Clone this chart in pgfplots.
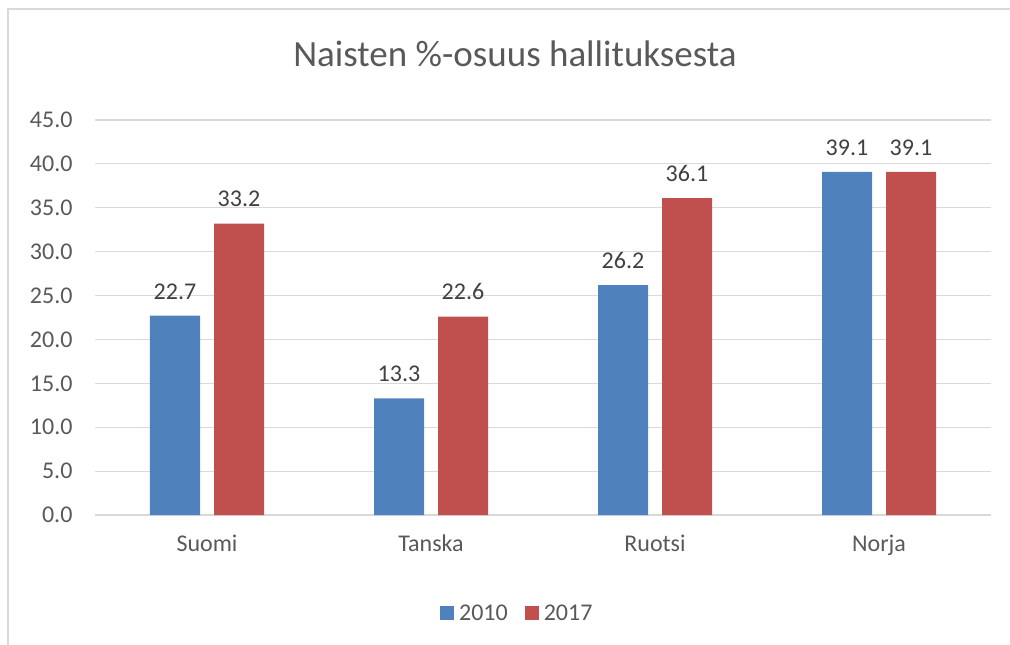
\documentclass[border=0pt]{standalone}
\usepackage{pgfplots}
\pgfplotsset{compat=1.18}
\usepackage{fontspec}
\setmainfont{Carlito}
\definecolor{cblue}{HTML}{4F81BD}
\definecolor{cred}{HTML}{C0504D}
\definecolor{ctxt}{HTML}{595959}
\definecolor{clab}{HTML}{404040}
\definecolor{cgrid}{HTML}{D9D9D9}
\begin{document}
\begin{tikzpicture}
\useasboundingbox (0pt,0pt) rectangle (1010pt,-645pt);
\draw[cgrid,line width=2pt] (8pt,-700pt) -- (8pt,-9pt) -- (1100pt,-9pt);
\node[font=\fontsize{37}{44}\selectfont,text=ctxt] at (515pt,-54pt) {Naisten \%-osuus hallituksesta};
\begin{axis}[
  at={(95pt,-515pt)}, anchor=south west,
  scale only axis, width=896pt, height=395pt,
  ybar, bar width=50pt,
  xmin=-0.5, xmax=3.5, ymin=0, ymax=45,
  xtick={0,1,2,3}, xticklabels={Suomi,Tanska,Ruotsi,Norja},
  ytick={0,5,...,45},
  /pgf/number format/fixed,
  /pgf/number format/fixed zerofill,
  /pgf/number format/precision=1,
  /pgf/number format/assume math mode=true,
  ticklabel style={font=\fontsize{24}{28}\selectfont,text=ctxt},
  yticklabel style={xshift=-19pt},
  xticklabel style={yshift=-16pt},
  major tick length=0pt,
  ymajorgrids, grid style={cgrid,line width=1.2pt},
  axis lines*=left,
  y axis line style={draw=none},
  x axis line style={draw=cgrid,line width=1.2pt,-},
  nodes near coords,
  nodes near coords style={font=\fontsize{24}{28}\selectfont,text=clab,yshift=13pt},
  legend style={at={(0.473,-0.248)},anchor=center,draw=none,legend columns=2,
    font=\fontsize{24}{28}\selectfont,text=ctxt,
    nodes={inner xsep=5pt},
    /tikz/every even column/.append style={column sep=12pt}},
  legend image code/.code={\fill[#1] (0pt,-7pt) rectangle (14pt,7pt);},
]
\addplot[fill=cblue,draw=none,bar shift=-32pt] coordinates {(0,22.7) (1,13.3) (2,26.2) (3,39.1)};
\addplot[fill=cred,draw=none,bar shift=32pt] coordinates {(0,33.2) (1,22.6) (2,36.1) (3,39.1)};
\legend{2010,2017}
\end{axis}
\end{tikzpicture}
\end{document}
